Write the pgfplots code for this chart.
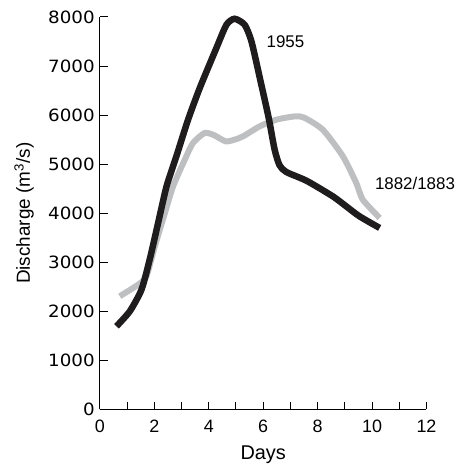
\documentclass[border=0pt]{standalone}
\usepackage{fontspec}
\setmainfont{Liberation Sans}
\newfontfamily\tickfont[FakeStretch=1.08]{DejaVu Sans}
\usepackage{pgfplots}
\pgfplotsset{compat=1.18}
\definecolor{FloodBlack}{RGB}{30,28,28}
\definecolor{FloodGray}{RGB}{190,191,193}

\begin{document}
\begin{tikzpicture}
\begin{axis}[
  scale only axis,
  width=327bp, height=393bp,
  xmin=0, xmax=12, ymin=0, ymax=8000,
  axis lines=left,
  axis line style={line width=1.1bp, -},
  xtick={0,2,...,12},
  minor xtick={1,3,...,11},
  ytick={0,1000,...,8000},
  tick align=inside,
  major tick length=8bp, minor tick length=8bp,
  every tick/.style={line width=1bp, black},
  minor tick style={line width=1bp, black},
  /pgf/number format/assume math mode=true,
  /pgf/number format/1000 sep={},
  scaled y ticks=false,
  xticklabel style={font=\fontsize{18}{20}\selectfont, inner sep=1bp, yshift=-9bp},
  yticklabel style={font=\tickfont\fontsize{17}{19}\selectfont, inner sep=1bp, xshift=-4bp},
  xlabel={Days},
  ylabel={Discharge (m\textsuperscript{3}/s)},
  xlabel style={font=\fontsize{20}{22}\selectfont, yshift=-9bp},
  ylabel style={font=\fontsize{19}{21}\selectfont, yshift=10bp},
  clip=false,
]
\addplot[FloodGray, line width=6bp, smooth, tension=0.4] coordinates {
  (0.73,2308) (1.41,2546) (1.71,2715) (2.02,3326) (2.39,4005) (2.69,4548)
  (3.12,5092) (3.42,5430) (3.85,5635) (4.2,5590) (4.62,5465) (4.95,5500)
  (5.26,5567) (5.87,5770) (6.48,5906) (7.16,5974) (7.5,5950) (8.19,5703)
  (8.93,5159) (9.42,4617) (9.66,4277) (10.28,3904)
};
\addplot[FloodBlack, line width=6.5bp, smooth, tension=0.4] coordinates {
  (0.61,1696) (1.10,2002) (1.53,2444) (1.83,3055) (2.14,3802) (2.45,4548)
  (2.81,5159) (3.24,5906) (3.67,6552) (4.28,7366) (4.65,7841) (4.95,7963)
  (5.32,7841) (5.57,7501) (5.9,6700) (6.2,5950) (6.42,5300) (6.6,4980)
  (6.85,4840) (7.6,4660) (8.56,4344) (9.05,4141) (9.54,3937) (10.28,3700)
};
\node[anchor=west, font=\fontsize{17}{19}\selectfont] at (axis cs:6.0,7500) {1955};
\node[anchor=west, font=\fontsize{17}{19}\selectfont] at (axis cs:9.98,4600) {1882/1883};
\end{axis}
\path ([xshift=-100bp,yshift=-57bp]current axis.south west)
  rectangle ([xshift=28bp,yshift=17bp]current axis.north east);
\end{tikzpicture}
\end{document}
